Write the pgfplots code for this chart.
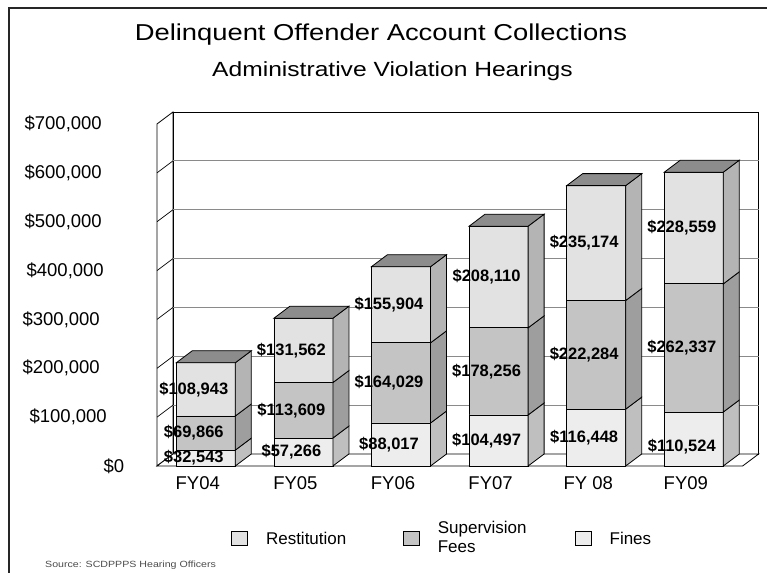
\documentclass[border=0pt]{standalone}
\usepackage{pgfplots}
\pgfplotsset{compat=1.18}
\usepackage{pgfplotstable}
\usepackage{fontspec}
\usepackage{graphicx}
\setmainfont{Liberation Sans}

\definecolor{restF}{HTML}{E2E2E2}
\definecolor{supF}{HTML}{C4C4C4}
\definecolor{fineF}{HTML}{EDEDED}
\definecolor{restS}{HTML}{B4B4B4}
\definecolor{supS}{HTML}{9E9E9E}
\definecolor{fineS}{HTML}{BFBFBF}
\definecolor{topC}{HTML}{8C8C8C}
\definecolor{gridC}{HTML}{8A8A8A}

\pgfplotstableread{
x cat  fines  sup    rest
0 FY04 32543  69866  108943
1 FY05 57266  113609 131562
2 FY06 88017  164029 155904
3 FY07 104497 178256 208110
4 FY08 116448 222284 235174
5 FY09 110524 262337 228559
}\data

\def\hw{0.3023}
\def\dxu{0.1639}
\def\dyu{24561}

\pgfplotsset{
  base/.style={scale only axis, width=585.6bp, height=342bp,
    xmin=-0.5, xmax=5.5, ymin=0, ymax=700000,
    at={(157bp,107bp)}, anchor=south west, clip=false},
  edge/.style={draw=black, line width=0.8bp},
  sq/.style={legend image code/.code={\draw[##1, line width=0.8bp] (0bp,-7bp) rectangle (16bp,7bp); \path (34bp,0bp);}},
  lab/.style={draw=none, mark=none, point meta=explicit,
    nodes near coords={\$\pgfmathprintnumber[fixed, precision=0, 1000 sep={,}, assume math mode=true]{\pgfplotspointmeta}},
    nodes near coords style={anchor=center, inner sep=0pt, text=black, font=\fontsize{16.5bp}{18bp}\selectfont\bfseries}},
}

\newcommand\sideface[4]{%
  \addplot[fill=#4, edge] table[row sep=\\,
     x expr={#1+\hw+\thisrow{s}*\dxu},
     y expr={(1-\thisrow{h})*(#2)+\thisrow{h}*(#3)+\thisrow{s}*\dyu}]
     {s h\\ 0 0\\ 1 0\\ 1 1\\ 0 1\\} -- cycle;}
\newcommand\topface[2]{%
  \addplot[fill=topC, edge] table[row sep=\\,
     x expr={#1+\thisrow{a}*\hw+\thisrow{s}*\dxu},
     y expr={(#2)+\thisrow{s}*\dyu}]
     {a s\\ -1 0\\ -1 1\\ 1 1\\ 1 0\\} -- cycle;}

\begin{document}
\begin{tikzpicture}
\path[use as bounding box] (0,0) rectangle (767bp,573bp);
\draw[line width=1.2bp, black!85] (767bp,565bp) -- (9bp,565bp) -- (9bp,0bp);

\node[anchor=base] at (381bp,532bp) {\scalebox{1.19}[1]{\fontsize{23bp}{26bp}\selectfont Delinquent Offender Account Collections}};
\node[anchor=base] at (392.5bp,496bp) {\scalebox{1.2}[1]{\fontsize{20.5bp}{24bp}\selectfont Administrative Violation Hearings}};
\node[anchor=base west, inner sep=0pt, text=black!70] at (45bp,6bp) {\scalebox{1.18}[1]{\fontsize{9bp}{10bp}\selectfont Source: SCDPPPS Hearing Officers}};

% walls, floor, gridlines, tick labels
\begin{axis}[base,
  axis line style={draw=none}, tick style={draw=none},
  scaled y ticks=false,
  xtick={0,1,2,3,4,5},
  xticklabels={FY04,FY05,FY06,FY07,FY 08,FY09},
  xticklabel style={anchor=base, inner sep=0pt, yshift=-24bp, xshift=-8bp, font=\fontsize{18.5bp}{20bp}\selectfont},
  ytick={0,100000,200000,300000,400000,500000,600000,700000},
  yticklabels={{\$0\kern-25bp},{\$100,000\kern-5bp},{\$200,000\kern2bp},{\$300,000\kern2bp},{\$400,000\kern-2bp},{\$500,000},{\$600,000},{\$700,000}},
  yticklabel style={anchor=east, inner sep=0pt, xshift=-55bp, font=\fontsize{18.5bp}{20bp}\selectfont},
]
\addplot[fill=white, edge] table[row sep=\\, x expr={\thisrow{x}+\dxu}, y expr={\thisrow{y}+\dyu}]
  {x y\\ -0.5 0\\ 5.5 0\\ 5.5 700000\\ -0.5 700000\\} -- cycle;
\addplot[fill=white, edge] table[row sep=\\, x expr={-0.5+\thisrow{s}*\dxu}, y expr={\thisrow{y}+\thisrow{s}*\dyu}]
  {s y\\ 0 0\\ 1 0\\ 1 700000\\ 0 700000\\} -- cycle;
\addplot[fill=white, edge] table[row sep=\\, x expr={\thisrow{x}+\thisrow{s}*\dxu}, y expr={\thisrow{s}*\dyu}]
  {x s\\ -0.5 0\\ 5.5 0\\ 5.5 1\\ -0.5 1\\} -- cycle;
\pgfplotsinvokeforeach{100000,200000,300000,400000,500000,600000}{
  \addplot[gridC, line width=0.9bp] table[row sep=\\, x expr={\thisrow{x}+\dxu}, y expr={#1+\dyu}] {x\\ -0.5\\ 5.5\\};
  \addplot[black, line width=0.7bp] table[row sep=\\, x expr={-0.5+\thisrow{s}*\dxu}, y expr={#1+\thisrow{s}*\dyu}] {s\\ 0\\ 1\\};
}
\end{axis}

% front faces (stacked) and legend
\begin{axis}[base, hide axis, ybar stacked, bar width=59bp,
  legend columns=3, reverse legend,
  legend style={at={(0.1264,-0.2105)}, anchor=west, draw=none, fill=none, inner sep=0pt,
    nodes={inner sep=0pt}, cells={anchor=west},
    /tikz/every even column/.append style={column sep=17bp},
    font=\fontsize{17bp}{19bp}\selectfont},
]
\addplot[fill=fineF, edge, sq] table[x=x, y=fines] \data;
\addlegendentry{\parbox{120bp}{Fines}}
\addplot[fill=supF, edge, sq] table[x=x, y=sup] \data;
\addlegendentry{\raisebox{12bp}{\parbox{120bp}{Supervision\\Fees}}}
\addplot[fill=restF, edge, sq] table[x=x, y=rest] \data;
\addlegendentry{\parbox{120bp}{Restitution}}
\end{axis}

% side and top faces, value labels
\begin{axis}[base, hide axis]
\pgfplotsinvokeforeach{0,1,2,3,4,5}{
  \pgfplotstablegetelem{#1}{fines}\of\data \edef\vf{\pgfplotsretval}
  \pgfplotstablegetelem{#1}{sup}\of\data \edef\vs{\pgfplotsretval}
  \pgfplotstablegetelem{#1}{rest}\of\data \edef\vr{\pgfplotsretval}
  \sideface{#1}{0}{\vf}{fineS}
  \sideface{#1}{\vf}{\vf+\vs}{supS}
  \sideface{#1}{\vf+\vs}{\vf+\vs+\vr}{restS}
  \topface{#1}{\vf+\vs+\vr}
}
\addplot[lab, skip coords between index={5}{6}] table[x expr={\thisrow{x}-0.123}, y expr={\thisrow{fines}/2}, meta=fines] \data;
\addplot[lab, skip coords between index={0}{5}] table[x expr={\thisrow{x}-0.123}, y expr={38900}, meta=fines] \data;
\addplot[lab] table[x expr={\thisrow{x}-0.123}, y expr={\thisrow{fines}+\thisrow{sup}/2}, meta=sup] \data;
\addplot[lab] table[x expr={\thisrow{x}-0.123}, y expr={\thisrow{fines}+\thisrow{sup}+\thisrow{rest}/2}, meta=rest] \data;
\end{axis}
\end{tikzpicture}
\end{document}
